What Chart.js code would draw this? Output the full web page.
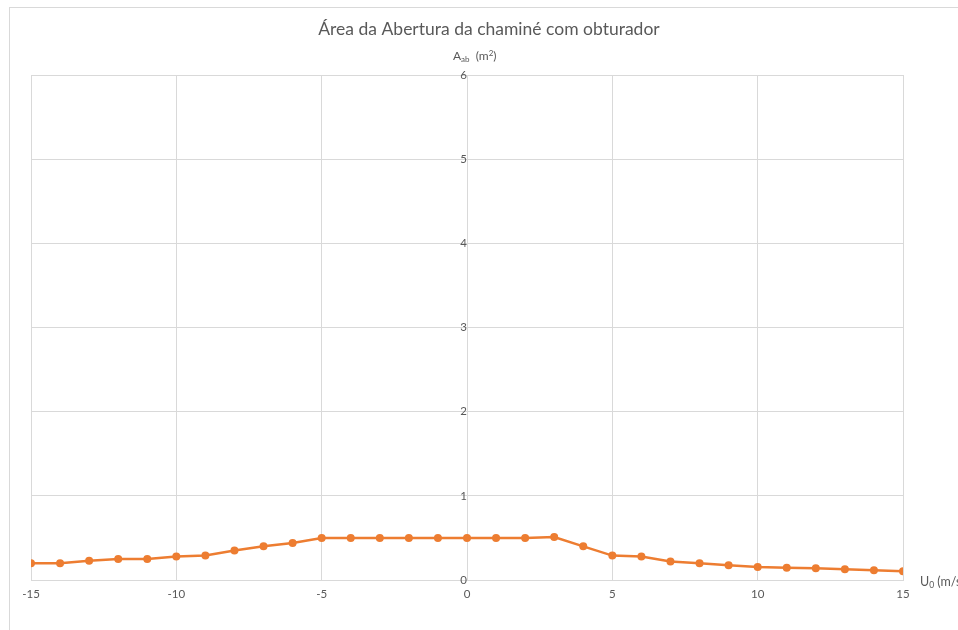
<!DOCTYPE html>
<html>
<head>
<meta charset="utf-8">
<script src="https://cdn.jsdelivr.net/npm/chart.js@4"></script>
<style>
  html, body { margin: 0; padding: 0; background: #fff; }
  #wrap { width: 958px; height: 630px; }
</style>
</head>
<body>
<div id="wrap"><canvas id="areaChart"></canvas></div>
<script>
// wind speed U0 (m/s)
const speeds = [-15, -14, -13, -12, -11, -10, -9, -8, -7, -6, -5, -4, -3, -2, -1, 0,
                1, 2, 3, 4, 5, 6, 7, 8, 9, 10, 11, 12, 13, 14, 15];
// opening area A_ab (m2)
const areas = [0.20, 0.20, 0.23, 0.25, 0.25, 0.28, 0.29, 0.35, 0.40, 0.44, 0.50, 0.50, 0.50, 0.50, 0.50, 0.50,
               0.50, 0.50, 0.51, 0.40, 0.29, 0.28, 0.22, 0.20, 0.175, 0.155, 0.146, 0.139, 0.127, 0.115, 0.103];

const chartTitle = 'Área da Abertura da chaminé com obturador';
const textColor = '#595959';
const gridColor = '#d9d9d9';
const fontFamily = 'Lato, "Open Sans", sans-serif';

const points = speeds.map((s, i) => ({ x: s, y: areas[i] }));

// frame, title and axis titles (with sub/superscripts)
const decorations = {
  id: 'decorations',
  beforeDraw(chart) {
    const ctx = chart.ctx;
    ctx.save();
    ctx.fillStyle = '#fff';
    ctx.fillRect(0, 0, chart.width, chart.height);
    ctx.strokeStyle = gridColor;
    ctx.lineWidth = 1;
    ctx.strokeRect(9.5, 7.5, 1000, 1000);
    ctx.restore();
  },
  afterDraw(chart) {
    const ctx = chart.ctx;
    const area = chart.chartArea;
    const x0 = chart.scales.x.getPixelForValue(0);
    ctx.save();
    ctx.fillStyle = textColor;
    ctx.textBaseline = 'alphabetic';

    ctx.font = '17.5px ' + fontFamily;
    ctx.textAlign = 'center';
    ctx.fillText(chartTitle, 489, 35);

    // y title: A_ab (m²)
    ctx.textAlign = 'left';
    let x = x0 - 14;
    let y = area.top - 15;
    ctx.font = '12px ' + fontFamily;
    ctx.fillText('A', x, y);
    x += ctx.measureText('A').width;
    ctx.font = '8px ' + fontFamily;
    ctx.fillText('ab', x, y + 2);
    x += ctx.measureText('ab').width;
    ctx.font = '12px ' + fontFamily;
    ctx.fillText('  (m', x, y);
    x += ctx.measureText('  (m').width;
    ctx.font = '8px ' + fontFamily;
    ctx.fillText('2', x, y - 4);
    x += ctx.measureText('2').width;
    ctx.font = '12px ' + fontFamily;
    ctx.fillText(')', x, y);

    // x title: U0 (m/s)
    x = area.right + 17;
    y = area.bottom + 6;
    ctx.font = '12.5px ' + fontFamily;
    ctx.fillText('U', x, y);
    x += ctx.measureText('U').width;
    ctx.font = '8.5px ' + fontFamily;
    ctx.fillText('0', x, y + 2);
    x += ctx.measureText('0').width;
    ctx.font = '12.5px ' + fontFamily;
    ctx.fillText(' (m/s)', x, y);
    ctx.restore();
  }
};

new Chart(document.getElementById('areaChart'), {
  type: 'scatter',
  data: {
    datasets: [{
      label: 'Aab',
      data: points,
      showLine: true,
      borderColor: '#ed7d31',
      backgroundColor: '#ed7d31',
      borderWidth: 2.5,
      pointRadius: 4,
      pointBorderWidth: 0,
      pointHoverRadius: 4,
      tension: 0
    }]
  },
  options: {
    responsive: true,
    maintainAspectRatio: false,
    animation: false,
    layout: { padding: { left: 31, top: 75, right: 55, bottom: 0 } },
    plugins: {
      legend: { display: false },
      tooltip: { enabled: false }
    },
    scales: {
      x: {
        type: 'linear',
        min: -15,
        max: 15,
        afterFit(scale) { scale.height = 50; },
        ticks: {
          stepSize: 5,
          padding: 7,
          color: textColor,
          font: { family: fontFamily, size: 11.5 }
        },
        grid: { color: gridColor, drawTicks: false },
        border: { color: gridColor }
      },
      y: {
        position: { x: 0 },
        min: 0,
        max: 6,
        ticks: {
          stepSize: 1,
          padding: 8,
          color: textColor,
          font: { family: fontFamily, size: 11.5 }
        },
        grid: { color: gridColor, drawTicks: false },
        border: { display: false }
      }
    }
  },
  plugins: [decorations]
});
</script>
</body>
</html>
